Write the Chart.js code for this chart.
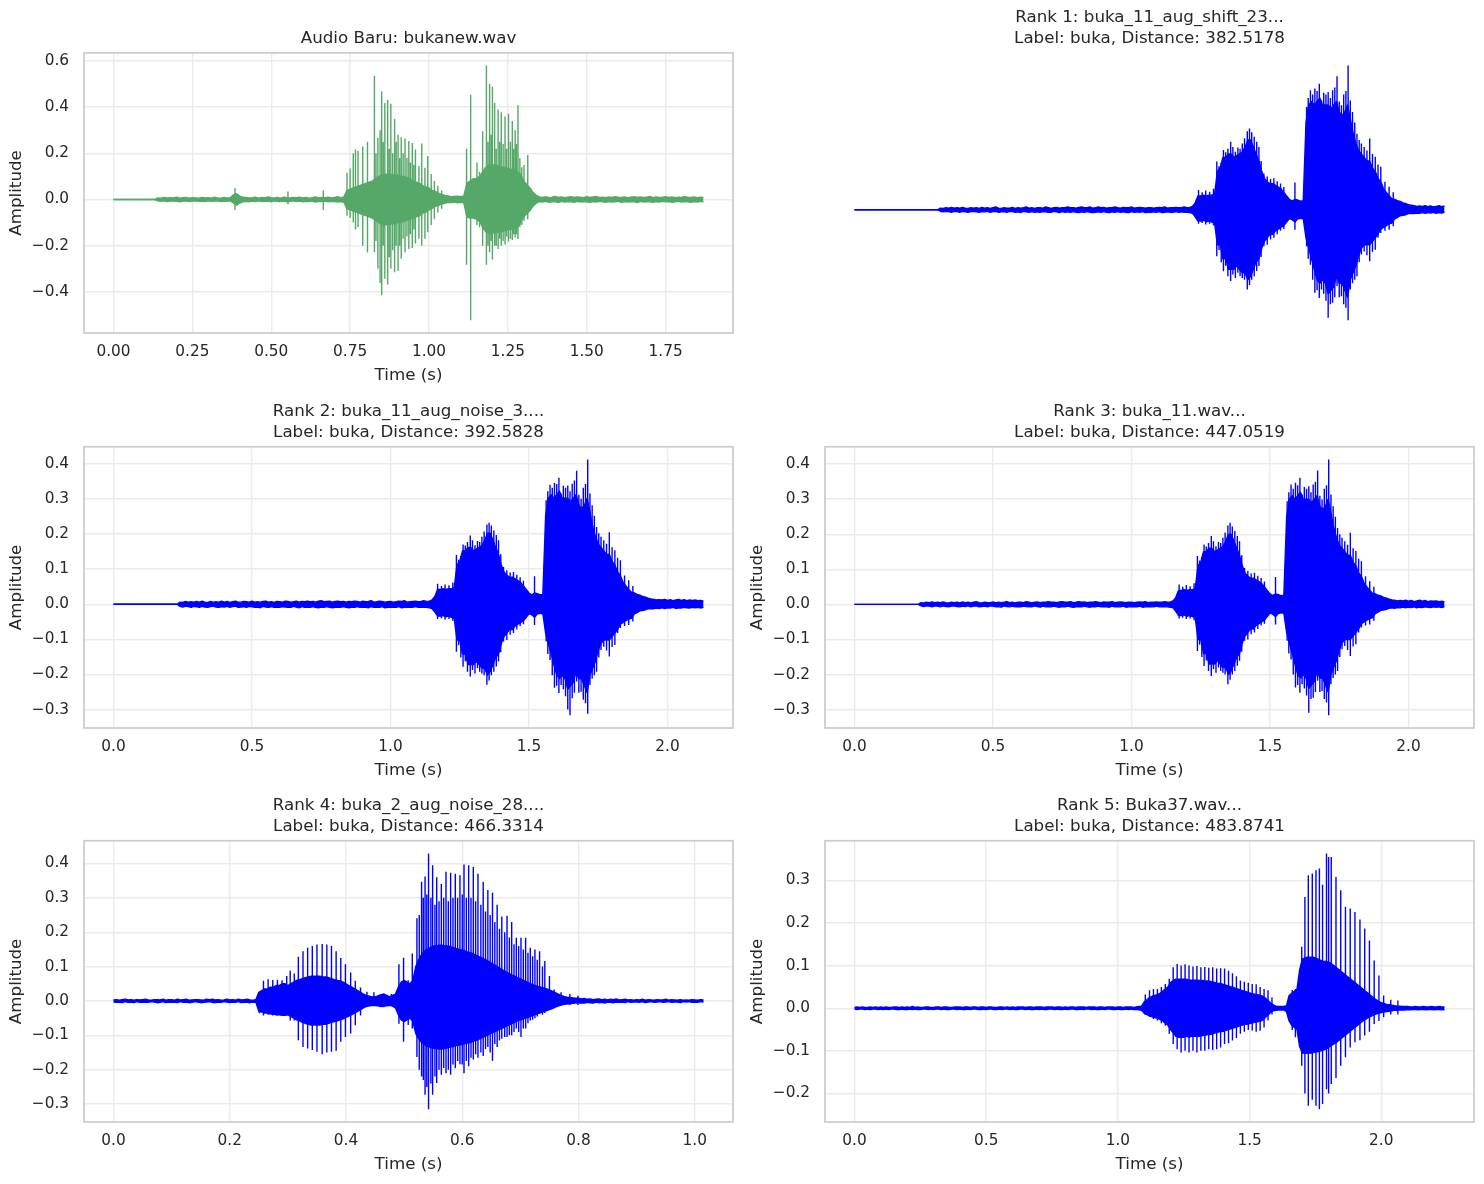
<!DOCTYPE html>
<html lang="en">
<head>
<meta charset="UTF-8">
<title>Audio Baru vs nearest buka clips</title>
<style>
  body { margin: 0; background: #fff; overflow: hidden; }
  .panel { position: absolute; }
</style>
</head>
<body>
<div class="panel" style="left:0;top:0;width:740px;height:390px"><canvas id="cA"></canvas></div>
<div class="panel" style="left:741px;top:0;width:743px;height:390px"><canvas id="cB"></canvas></div>
<div class="panel" style="left:0;top:394px;width:740px;height:390px"><canvas id="cC"></canvas></div>
<div class="panel" style="left:741px;top:394px;width:743px;height:390px"><canvas id="cD"></canvas></div>
<div class="panel" style="left:0;top:788px;width:740px;height:390px"><canvas id="cE"></canvas></div>
<div class="panel" style="left:741px;top:788px;width:743px;height:390px"><canvas id="cF"></canvas></div>

<script src="https://cdn.jsdelivr.net/npm/chart.js"></script>
<script>
// ---- data: solid core of each waveform in thousandths, one row = 0.1 s ----
// plus the single pitch pulses that stick out of it (time s, peak, trough)

// Audio Baru: bukanew.wav (0.01 s per value, 0 .. 1.87 s)
const stepA = 0.01;
const upA = [
  0,0,0,0,0,0,0,0,0,0,
  0,0,0,0,7,6,9,7,8,7,
  10,6,8,9,6,8,7,6,9,7,
  8,6,10,7,6,9,7,8,20,25,
  15,10,9,7,8,10,6,9,7,11,
  8,7,9,6,10,8,7,9,8,10,
  7,9,6,8,11,7,9,8,10,7,
  9,12,8,11,40,45,50,55,60,65,
  70,75,80,90,100,105,110,110,110,105,
  105,100,100,95,90,80,75,70,60,55,
  50,40,35,28,22,18,15,12,13,14,
  12,15,70,80,90,90,100,120,140,150,
  150,150,145,140,140,135,130,130,120,110,
  80,65,50,30,18,11,9,12,8,10,
  13,9,11,8,10,12,9,11,10,8,
  12,9,11,13,9,10,8,11,9,12,
  10,9,11,8,10,12,9,11,9,10,
  13,8,11,9,10,12,9,11,8,10,
  9,12,10,9,11,8,10,9
];
const loA = [
  0,0,0,0,0,0,0,0,0,0,
  0,0,0,0,-6,-8,-6,-9,-7,-6,
  -8,-10,-7,-6,-9,-7,-6,-8,-7,-9,
  -6,-8,-7,-6,-9,-7,-8,-6,-15,-25,
  -15,-10,-8,-10,-7,-9,-6,-9,-8,-7,
  -10,-6,-8,-9,-7,-10,-8,-6,-9,-7,
  -10,-8,-9,-7,-11,-8,-9,-7,-10,-8,
  -9,-11,-9,-12,-40,-45,-50,-55,-60,-65,
  -70,-75,-80,-90,-100,-105,-110,-110,-105,-105,
  -100,-100,-95,-90,-85,-80,-75,-70,-60,-55,
  -45,-38,-30,-25,-20,-16,-12,-13,-11,-14,
  -12,-13,-75,-80,-80,-85,-95,-120,-140,-145,
  -145,-145,-140,-140,-135,-130,-130,-125,-120,-100,
  -75,-62,-48,-28,-16,-9,-11,-8,-12,-10,
  -9,-13,-8,-11,-9,-10,-12,-8,-11,-9,
  -10,-13,-9,-11,-8,-10,-12,-9,-11,-10,
  -8,-12,-9,-11,-10,-9,-13,-8,-11,-9,
  -10,-12,-9,-11,-8,-10,-9,-12,-10,-8,
  -11,-9,-10,-12,-9,-11,-8,-10
];
const pulseTA = [0.385,0.553,0.665,
  0.740,0.750,0.760,0.767,0.775,0.790,0.805,0.827,0.832,0.838,
  0.845,0.850,0.855,0.860,0.869,0.874,0.879,0.885,0.891,0.896,
  0.902,0.907,0.912,0.918,0.924,0.930,0.936,0.941,0.947,0.952,
  0.957,0.968,0.977,0.987,0.996,1.007,1.017,1.028,1.040,
  1.119,1.132,1.152,1.160,1.170,1.182,1.187,1.192,1.197,1.201,
  1.208,1.213,1.219,1.224,1.229,1.235,1.241,1.246,1.252,1.258,
  1.264,1.268,1.273,1.277,1.282,1.288,1.294,1.301,1.313];
const pulseHiA = [50,35,40,
  116,134,200,217,210,230,250,536,200,267,
  300,468,250,418,432,220,415,200,349,250,
  280,180,270,200,264,180,253,160,245,150,
  217,145,243,138,188,110,80,60,40,
  220,454,160,120,296,580,250,500,280,490,
  418,220,390,250,378,240,360,220,372,250,
  340,220,300,240,408,180,140,150,193];
const pulseLoA = [-45,-20,-45,
  -70,-80,-100,-130,-120,-200,-230,-228,-180,-300,
  -362,-415,-200,-343,-368,-250,-300,-220,-315,-200,
  -310,-200,-257,-170,-228,-160,-214,-150,-210,-130,
  -190,-170,-200,-170,-142,-110,-85,-56,-40,
  -282,-523,-110,-120,-200,-283,-200,-228,-180,-260,
  -200,-200,-214,-170,-200,-180,-195,-160,-182,-170,
  -175,-150,-165,-150,-171,-120,-110,-92,-85];

// Rank 3: buka_11.wav (0.01 s per value, 0 .. 2.13 s)
const stepD = 0.01;
const upD = [
  0,0,0,0,0,0,0,0,0,0,
  0,0,0,0,0,0,0,0,0,0,
  0,0,0,0,5,4,6,5,7,5,
  6,5,7,5,4,6,5,6,4,7,
  5,6,4,6,8,5,4,6,5,5,
  7,4,6,5,6,8,5,6,4,6,
  6,5,8,6,4,6,7,5,6,6,
  8,6,6,5,7,8,6,6,8,5,
  6,8,6,7,5,6,6,8,6,5,
  7,6,6,8,5,6,7,6,5,6,
  6,5,6,7,6,8,5,6,6,7,
  6,6,8,6,7,10,20,40,40,42,
  40,42,42,45,110,120,150,150,160,160,
  150,155,160,165,180,200,200,180,160,140,
  110,90,80,75,75,70,65,60,50,40,
  30,25,30,28,25,26,250,300,310,300,
  310,320,300,300,300,290,300,310,280,270,
  280,300,260,220,190,170,160,150,140,140,
  120,110,90,80,60,50,40,32,30,26,
  24,20,18,15,13,12,10,11,10,12,
  9,11,8,10,12,9,11,8,10,9,
  10,8,9,7
];
const loD = [
  0,0,0,0,0,0,0,0,0,0,
  0,0,0,0,0,0,0,0,0,0,
  0,0,0,0,-4,-6,-4,-5,-7,-4,
  -5,-7,-4,-6,-7,-5,-4,-6,-7,-5,
  -6,-4,-7,-5,-4,-7,-6,-5,-7,-4,
  -5,-7,-6,-8,-4,-6,-7,-5,-7,-6,
  -7,-5,-6,-7,-7,-4,-6,-8,-5,-7,
  -6,-7,-5,-7,-8,-6,-7,-5,-7,-8,
  -7,-6,-7,-5,-7,-8,-6,-7,-5,-7,
  -6,-7,-8,-5,-7,-6,-7,-5,-8,-7,
  -7,-6,-7,-5,-8,-7,-6,-7,-7,-5,
  -7,-6,-7,-7,-8,-10,-20,-32,-32,-30,
  -34,-32,-35,-38,-100,-100,-140,-140,-170,-170,
  -170,-160,-170,-180,-180,-200,-190,-170,-150,-140,
  -110,-90,-80,-70,-70,-60,-55,-50,-45,-35,
  -25,-28,-35,-26,-24,-25,-80,-110,-140,-170,
  -200,-210,-200,-210,-240,-230,-220,-190,-210,-210,
  -230,-250,-200,-180,-160,-130,-110,-100,-100,-100,
  -90,-80,-70,-55,-50,-45,-40,-38,-26,-22,
  -17,-16,-14,-11,-10,-11,-9,-10,-8,-10,
  -8,-9,-7,-10,-8,-9,-7,-8,-9,-7,
  -8,-7,-9,-6
];
const pulseTD = [1.172,1.185,1.198,1.212,1.226,1.238,1.246,1.254,1.262,1.270,
  1.278,1.288,1.296,1.305,1.314,1.322,1.330,1.338,1.348,1.356,
  1.364,1.373,1.382,1.390,1.398,1.408,1.420,1.432,1.444,1.456,
  1.468,1.480,1.520,
  1.562,1.568,1.576,1.584,1.592,1.600,1.608,1.616,1.624,1.632,
  1.640,1.648,1.656,1.664,1.672,1.680,1.688,1.696,1.704,1.712,
  1.720,1.728,1.736,1.744,1.752,1.760,1.770,1.780,1.790,1.800,
  1.810,1.820,1.830,1.845,1.860,1.875];
const pulseHiD = [57,50,55,52,60,138,125,135,171,165,
  175,195,180,166,178,175,190,205,225,233,
  222,209,195,180,140,104,95,88,90,82,
  75,65,78,
  294,320,342,330,347,340,361,313,335,330,
  337,320,342,350,382,310,299,330,340,413,
  313,280,250,218,200,190,180,170,204,160,
  152,130,123,80,66,50];
const pulseLoD = [-40,-38,-42,-40,-45,-133,-115,-150,-176,-160,
  -190,-204,-185,-195,-180,-190,-195,-200,-228,-215,
  -200,-190,-175,-161,-135,-104,-100,-85,-80,-70,
  -60,-55,-57,
  -104,-140,-157,-200,-237,-230,-252,-228,-240,-260,
  -309,-270,-266,-250,-218,-250,-247,-270,-280,-316,
  -228,-210,-200,-190,-150,-128,-119,-130,-147,-120,
  -114,-80,-66,-60,-57,-47];

// Rank 1: the same clip as rank 3, starting 7 samples (0.07 s) later
const leadB = [0,0,0,0,0,0,0];
const shiftB = 0.07;
const upB = leadB.concat(upD).slice(0, upD.length);
const loB = leadB.concat(loD).slice(0, loD.length);
const pulseTB = pulseTD.map(t => Math.round((t + shiftB) * 1000) / 1000);

// Rank 2: buka_11_aug_noise_3 (0.01 s per value, 0 .. 2.13 s)
const stepC = 0.01;
const upC = [
  0,0,0,0,0,0,0,0,0,0,
  0,0,0,0,0,0,0,0,0,0,
  0,0,0,0,6,5,8,6,7,6,
  8,6,9,6,5,8,6,7,6,9,
  6,8,5,7,9,6,6,8,7,6,
  9,6,7,6,8,9,6,7,5,8,
  7,6,9,8,6,7,9,6,8,7,
  9,7,8,6,9,10,7,8,9,6,
  8,9,7,8,6,8,7,9,8,6,
  9,7,8,10,6,7,9,8,6,7,
  8,6,7,9,8,10,6,7,8,9,
  7,8,10,8,9,12,22,42,42,44,
  42,44,44,47,112,122,152,152,162,162,
  152,157,162,167,182,202,202,182,162,142,
  112,92,82,77,77,72,67,62,52,42,
  32,27,32,30,27,28,252,302,312,302,
  312,322,302,302,302,292,302,312,282,272,
  282,302,262,222,192,172,162,152,142,142,
  122,112,92,82,62,52,42,34,32,28,
  26,22,20,17,15,14,12,13,12,14,
  11,13,10,12,14,11,13,10,12,11,
  12,10,11,9
];
const loC = [
  0,0,0,0,0,0,0,0,0,0,
  0,0,0,0,0,0,0,0,0,0,
  0,0,0,0,-6,-8,-5,-7,-9,-6,
  -7,-9,-6,-8,-9,-7,-5,-8,-9,-7,
  -8,-6,-9,-7,-5,-9,-8,-7,-9,-6,
  -7,-9,-8,-10,-6,-8,-9,-7,-9,-8,
  -9,-7,-8,-9,-9,-6,-8,-10,-7,-9,
  -8,-9,-7,-9,-10,-8,-9,-7,-9,-10,
  -9,-8,-9,-7,-9,-10,-8,-9,-7,-9,
  -8,-9,-10,-7,-9,-8,-9,-7,-10,-9,
  -9,-8,-9,-7,-10,-9,-8,-9,-9,-7,
  -9,-8,-9,-9,-10,-12,-22,-34,-34,-32,
  -36,-34,-37,-40,-102,-102,-142,-142,-172,-172,
  -172,-162,-172,-182,-182,-202,-192,-172,-152,-142,
  -112,-92,-82,-72,-72,-62,-57,-52,-47,-37,
  -27,-30,-37,-28,-26,-27,-82,-112,-142,-172,
  -202,-212,-202,-212,-242,-232,-222,-192,-212,-212,
  -232,-252,-202,-182,-162,-132,-112,-102,-102,-102,
  -92,-82,-72,-57,-52,-47,-42,-40,-28,-24,
  -19,-18,-16,-13,-12,-13,-11,-12,-10,-12,
  -10,-11,-9,-12,-10,-11,-9,-10,-11,-9,
  -10,-9,-11,-8
];
const pulseTC = [1.170,1.184,1.197,1.211,1.225,1.238,1.246,1.254,1.262,1.270,
  1.278,1.288,1.296,1.305,1.314,1.322,1.330,1.338,1.348,1.356,
  1.364,1.373,1.382,1.390,1.398,1.408,1.420,1.432,1.444,1.456,
  1.468,1.480,1.520,
  1.562,1.568,1.576,1.584,1.592,1.600,1.608,1.616,1.624,1.632,
  1.640,1.648,1.656,1.664,1.672,1.680,1.688,1.696,1.704,1.712,
  1.720,1.728,1.736,1.744,1.752,1.760,1.770,1.780,1.790,1.800,
  1.810,1.820,1.830,1.845,1.860,1.875];
const pulseHiC = [58,52,56,54,62,140,127,137,170,167,
  177,196,182,168,180,177,192,207,227,232,
  224,210,197,182,142,106,97,90,92,84,
  77,67,80,
  296,322,340,332,345,342,360,315,337,332,
  338,322,343,352,380,312,300,332,342,412,
  315,282,252,220,202,192,182,172,205,162,
  154,132,125,82,68,52];
const pulseLoC = [-42,-40,-44,-42,-47,-135,-117,-152,-178,-162,
  -192,-206,-187,-197,-182,-192,-197,-202,-229,-217,
  -202,-192,-177,-163,-137,-106,-102,-87,-82,-72,
  -62,-57,-59,
  -106,-142,-159,-202,-238,-232,-253,-230,-242,-262,
  -300,-316,-268,-252,-220,-252,-249,-272,-282,-312,
  -230,-212,-202,-192,-152,-130,-121,-132,-149,-122,
  -116,-82,-68,-62,-59,-49];

// Rank 4: buka_2_aug_noise_28 (0.005 s per value, 0 .. 1.015 s, one row = 0.1 s)
const stepE = 0.005;
const upE = [
  3,4,2,4,5,3,4,2,4,3,4,5,3,2,4,4,3,5,2,4,
  4,2,5,3,4,5,2,3,4,4,3,2,5,4,5,3,4,2,3,5,
  3,4,2,5,3,4,5,3,2,4,25,30,35,35,40,40,45,45,50,50,
  45,50,55,60,62,65,68,70,72,72,72,72,70,70,68,65,62,60,58,55,
  50,45,40,35,30,25,20,16,14,12,12,15,18,20,16,12,16,20,40,55,
  60,55,50,60,100,120,135,145,150,155,160,160,162,162,160,160,158,155,152,150,
  148,145,142,140,136,132,128,124,120,115,110,105,100,95,90,85,80,76,72,68,
  64,60,56,52,48,45,42,40,38,35,32,28,24,20,16,13,11,10,9,8,
  8,6,7,5,6,4,5,6,4,5,3,5,4,6,3,4,5,3,4,2,
  4,3,5,2,4,3,2,4,3,3,5,2,4,3,2,4,2,3,2,4,
  3,2,4,3
];
const loE = [
  -3,-4,-3,-5,-2,-4,-3,-5,-2,-4,-3,-4,-4,-2,-3,-5,-4,-2,-5,-3,
  -4,-3,-5,-2,-4,-3,-5,-4,-2,-3,-5,-4,-3,-2,-4,-5,-3,-4,-2,-3,
  -5,-3,-4,-2,-5,-3,-4,-5,-3,-4,-30,-32,-35,-35,-38,-38,-40,-40,-42,-42,
  -40,-45,-50,-55,-58,-62,-65,-68,-70,-70,-70,-70,-68,-68,-65,-62,-60,-58,-55,-52,
  -48,-44,-40,-35,-30,-25,-20,-16,-14,-13,-13,-14,-16,-15,-14,-13,-15,-20,-40,-55,
  -60,-55,-50,-60,-95,-110,-120,-128,-132,-135,-138,-138,-140,-140,-138,-136,-134,-132,-130,-128,
  -126,-124,-122,-120,-117,-114,-110,-106,-102,-98,-94,-90,-86,-82,-78,-74,-70,-66,-62,-58,
  -55,-52,-49,-46,-43,-40,-37,-34,-31,-28,-25,-22,-18,-15,-12,-10,-9,-8,-7,-6,
  -6,-5,-6,-4,-5,-6,-3,-5,-4,-6,-3,-4,-5,-3,-4,-3,-5,-2,-4,-3,
  -3,-4,-2,-5,-3,-2,-4,-3,-2,-4,-3,-2,-4,-3,-3,-5,-2,-3,-2,-4,
  -3,-4,-2,-3
];
const pulseTE = [0.251,0.258,0.266,0.274,0.282,0.290,0.298,0.304,0.311,0.318,
  0.326,0.334,0.342,0.350,0.359,0.367,0.375,0.383,0.391,0.399,
  0.408,0.416,0.425,0.436,0.448,0.465,0.478,
  0.491,0.499,0.507,0.514,0.522,0.526,0.530,0.533,0.536,0.539,0.542,
  0.546,0.549,0.553,0.556,0.560,0.564,0.568,0.572,0.576,0.580,0.584,0.588,0.592,0.596,0.600,
  0.603,0.607,0.611,0.615,0.619,0.623,0.627,0.632,0.636,0.640,0.644,0.648,0.652,0.656,0.660,
  0.664,0.668,0.673,0.677,0.681,0.685,0.689,0.693,0.697,0.701,0.705,0.709,0.713,0.717,0.721,
  0.725,0.729,0.733,0.738,0.742,0.750,0.758,0.770,0.785,0.799];
const pulseHiE = [27,59,63,61,62,60,73,88,80,129,
  145,155,160,164,166,164,160,145,125,107,
  83,59,39,27,25,22,20,
  107,126,60,138,241,250,347,300,362,310,429,
  300,395,280,360,290,340,300,376,290,373,300,370,300,366,310,
  397,300,395,300,390,290,370,280,347,260,323,250,315,230,280,
  210,246,200,248,185,230,165,184,160,184,150,184,140,155,130,
  150,120,145,100,116,73,33,25,20,15];
const pulseLoE = [-36,-42,-40,-42,-42,-40,-28,-57,-57,-114,
  -134,-138,-143,-148,-155,-150,-148,-145,-119,-105,
  -95,-71,-42,-16,-15,-18,-12,
  -66,-119,-70,-80,-163,-200,-220,-230,-273,-250,-315,
  -240,-273,-220,-239,-200,-215,-195,-210,-200,-215,-185,-196,-175,-184,-185,
  -210,-175,-190,-165,-170,-155,-165,-150,-160,-140,-134,-150,-174,-125,-134,
  -115,-110,-105,-105,-100,-100,-90,-80,-90,-105,-80,-80,-65,-57,-55,
  -50,-45,-37,-40,-35,-25,-18,-15,-12,-12];

// Rank 5: Buka37.wav (0.01 s per value, 0 .. 2.24 s)
const stepF = 0.01;
const upF = [
  2,3,2,3,2,2,3,2,3,2,
  3,2,3,2,2,3,3,2,3,2,
  3,2,4,2,3,2,2,3,3,2,
  2,3,3,2,3,3,2,2,3,3,
  3,2,3,3,2,3,3,2,3,3,
  2,3,3,2,2,3,3,2,3,2,
  3,2,3,3,3,2,3,3,2,3,
  3,3,2,3,3,3,2,3,3,2,
  3,2,3,3,2,3,3,3,2,3,
  3,3,2,3,3,2,3,3,3,2,
  3,3,2,3,3,3,2,3,4,5,
  15,20,25,28,30,32,35,40,45,50,
  60,65,68,68,68,68,68,66,66,66,
  66,65,65,64,64,63,62,60,58,58,
  56,54,52,50,48,46,44,42,40,38,
  36,34,33,32,30,28,24,18,12,8,
  5,4,4,4,6,30,35,40,45,90,
  115,118,120,120,120,118,115,112,110,110,
  108,105,100,95,90,85,80,75,70,65,
  60,55,50,45,40,35,30,25,20,16,
  13,11,9,8,7,6,5,5,4,4,
  4,3,3,4,3,3,4,3,3,4,
  3,3,4,3,3
];
const loF = [
  -2,-3,-2,-2,-3,-2,-3,-2,-2,-3,
  -2,-3,-2,-3,-2,-2,-3,-3,-2,-3,
  -3,-2,-3,-2,-3,-3,-2,-2,-3,-2,
  -3,-2,-2,-3,-2,-3,-3,-2,-2,-3,
  -2,-3,-3,-2,-3,-2,-2,-3,-3,-2,
  -3,-2,-2,-3,-3,-2,-3,-2,-2,-3,
  -2,-3,-3,-2,-2,-3,-2,-3,-3,-2,
  -3,-2,-3,-3,-2,-2,-3,-2,-3,-3,
  -2,-3,-2,-2,-3,-3,-2,-3,-2,-2,
  -3,-2,-3,-3,-2,-3,-2,-2,-3,-3,
  -2,-3,-3,-2,-3,-2,-3,-3,-4,-5,
  -12,-15,-18,-20,-22,-24,-26,-30,-35,-40,
  -50,-58,-66,-68,-68,-68,-66,-68,-66,-66,
  -66,-66,-64,-64,-62,-62,-60,-58,-56,-55,
  -54,-52,-50,-48,-46,-44,-42,-40,-38,-38,
  -36,-34,-33,-32,-31,-28,-22,-16,-10,-6,
  -5,-4,-4,-4,-8,-30,-40,-45,-50,-90,
  -105,-106,-106,-105,-105,-102,-102,-100,-98,-96,
  -92,-88,-84,-80,-75,-70,-65,-60,-55,-50,
  -45,-40,-35,-30,-26,-22,-19,-16,-14,-12,
  -10,-9,-8,-7,-6,-5,-5,-4,-4,-4,
  -3,-4,-3,-3,-4,-3,-3,-4,-3,-3,
  -4,-3,-3,-4,-3
];
const pulseTF = [1.104,1.120,1.135,1.150,1.165,1.180,1.195,1.210,1.225,1.240,
  1.255,1.270,1.285,1.300,1.315,1.330,1.345,1.360,1.375,1.390,
  1.405,1.420,1.435,1.450,1.465,1.480,1.495,1.510,1.525,1.540,
  1.555,1.570,1.585,
  1.662,1.674,1.687,1.698,1.710,1.723,1.738,1.752,
  1.765,1.777,1.792,1.800,1.810,1.828,1.846,1.864,1.882,1.900,
  1.919,1.937,1.955,1.973,1.991,2.009,2.036,2.063];
const pulseHiF = [32,42,45,45,50,57,69,96,104,100,
  103,100,98,99,96,97,95,96,93,94,
  93,88,82,75,65,62,60,57,56,50,
  45,42,25,
  43,45,57,144,261,312,316,324,
  328,290,363,355,355,308,277,238,234,226,
  208,187,159,112,77,30,20,18];
const pulseLoF = [-15,-20,-25,-29,-35,-41,-60,-84,-96,-104,
  -100,-104,-100,-104,-100,-100,-96,-98,-96,-92,
  -84,-82,-76,-70,-60,-55,-51,-52,-55,-53,
  -45,-29,-15,
  -51,-68,-40,-135,-200,-229,-215,-229,
  -237,-225,-190,-200,-178,-164,-135,-115,-92,-80,
  -75,-64,-55,-37,-30,-21,-15,-15];

const titles = {
  A: 'Audio Baru: bukanew.wav',
  B: ['Rank 1: buka_11_aug_shift_23...', 'Label: buka, Distance: 382.5178'],
  C: ['Rank 2: buka_11_aug_noise_3....', 'Label: buka, Distance: 392.5828'],
  D: ['Rank 3: buka_11.wav...', 'Label: buka, Distance: 447.0519'],
  E: ['Rank 4: buka_2_aug_noise_28....', 'Label: buka, Distance: 466.3314'],
  F: ['Rank 5: Buka37.wav...', 'Label: buka, Distance: 483.8741']
};

// ---- drawing ----
const INK = '#262626';
const GRID = '#ebebeb';
const GREEN = '#55a868';
const BLUE = '#0000ff';
Chart.defaults.font.family = "'DejaVu Sans', sans-serif";

function envelope(step, vals) {
  return vals.map((v, i) => ({x: Math.round(i * step * 1000) / 1000, y: v / 1000}));
}
// pulses as separate vertical strokes
function pulses(ts, hi, lo) {
  const pts = [];
  ts.forEach((t, i) => {
    pts.push({x: t, y: lo[i] / 1000}, {x: t, y: hi[i] / 1000}, {x: t, y: null});
  });
  return pts;
}
function fmt(v, d) {
  if (Math.abs(v) < 1e-9) v = 0;
  return v.toFixed(d).replace('-', '\u2212');
}

// matplotlib style box around the axes
const frame = {
  id: 'frame',
  afterDraw(chart, args, opts) {
    if (!opts.show) return;
    const {ctx, chartArea: a} = chart;
    ctx.save();
    ctx.strokeStyle = '#cccccc';
    ctx.lineWidth = 1.75;
    ctx.strokeRect(a.left, a.top, a.right - a.left, a.bottom - a.top);
    ctx.restore();
  }
};

function makePanel(id, o) {
  const all = o.up.concat(o.lo, o.hi || [], o.plo || []);
  const ymax = Math.max(...all) / 1000, ymin = Math.min(...all) / 1000;
  const ym = (ymax - ymin) * 0.05;
  const T = (o.up.length - 1) * o.step;
  const line = {borderColor: o.color, backgroundColor: o.color, borderWidth: 1.4,
    pointRadius: 0, tension: 0, borderJoinStyle: 'round', spanGaps: false};
  const datasets = [
    Object.assign({data: envelope(o.step, o.up), fill: '+1'}, line),
    Object.assign({data: envelope(o.step, o.lo), fill: false}, line)
  ];
  if (o.pt) datasets.push(Object.assign({data: pulses(o.pt, o.hi, o.plo), fill: false}, line));
  const twoLines = Array.isArray(o.title);
  const ax = o.axes;

  new Chart(document.getElementById(id), {
    type: 'line',
    data: {datasets},
    plugins: [frame],
    options: {
      animation: false,
      responsive: true,
      maintainAspectRatio: false,
      events: [],
      layout: {padding: {right: o.padR, bottom: o.padB}},
      plugins: {
        legend: {display: false},
        tooltip: {enabled: false},
        title: {display: true, text: o.title, fullSize: false, color: INK,
          font: {size: 16.7, weight: 'normal', lineHeight: 1.25},
          padding: {top: twoLines ? 7.5 : 28.5, bottom: 3.5}},
        frame: {show: ax}
      },
      scales: {
        x: {
          type: 'linear',
          min: -0.05 * T, max: 1.05 * T,
          afterFit: s => { s.height = 56; },
          grid: {display: ax, color: GRID, lineWidth: 1.4, drawTicks: false},
          border: {display: false},
          ticks: {display: ax, stepSize: o.xStep, includeBounds: false, padding: 10, color: INK,
            font: {size: 15.3}, maxRotation: 0, autoSkip: false,
            callback: v => fmt(v, o.xDec)},
          title: {display: ax, text: 'Time (s)', color: INK, font: {size: 16.7},
            padding: {top: 0, bottom: 3}}
        },
        y: {
          type: 'linear',
          min: ymin - ym, max: ymax + ym,
          afterFit: s => { s.width = 84; },
          grid: {display: ax, color: GRID, lineWidth: 1.4, drawTicks: false},
          border: {display: false},
          ticks: {display: ax, stepSize: o.yStep, includeBounds: false, padding: 15, color: INK,
            font: {size: 15.3}, callback: v => fmt(v, 1)},
          title: {display: ax, text: 'Amplitude', color: INK, font: {size: 16.7},
            padding: {top: 7, bottom: 0}}
        }
      }
    }
  });
}

makePanel('cA', {title: titles.A, color: GREEN, step: stepA, up: upA, lo: loA,
  pt: pulseTA, hi: pulseHiA, plo: pulseLoA, xStep: 0.25, xDec: 2, yStep: 0.2,
  axes: true, padR: 7, padB: 1});
makePanel('cB', {title: titles.B, color: BLUE, step: stepD, up: upB, lo: loB,
  pt: pulseTB, hi: pulseHiD, plo: pulseLoD,
  xStep: 0.5, xDec: 1, yStep: 0.1, axes: false, padR: 10, padB: 1});
makePanel('cC', {title: titles.C, color: BLUE, step: stepC, up: upC, lo: loC,
  pt: pulseTC, hi: pulseHiC, plo: pulseLoC,
  xStep: 0.5, xDec: 1, yStep: 0.1, axes: true, padR: 7, padB: 0});
makePanel('cD', {title: titles.D, color: BLUE, step: stepD, up: upD, lo: loD,
  pt: pulseTD, hi: pulseHiD, plo: pulseLoD,
  xStep: 0.5, xDec: 1, yStep: 0.1, axes: true, padR: 10, padB: 0});
makePanel('cE', {title: titles.E, color: BLUE, step: stepE, up: upE, lo: loE,
  pt: pulseTE, hi: pulseHiE, plo: pulseLoE, xStep: 0.2, xDec: 1, yStep: 0.1,
  axes: true, padR: 7, padB: 0});
makePanel('cF', {title: titles.F, color: BLUE, step: stepF, up: upF, lo: loF,
  pt: pulseTF, hi: pulseHiF, plo: pulseLoF, xStep: 0.5, xDec: 1, yStep: 0.1,
  axes: true, padR: 10, padB: 0});
</script>
</body>
</html>
